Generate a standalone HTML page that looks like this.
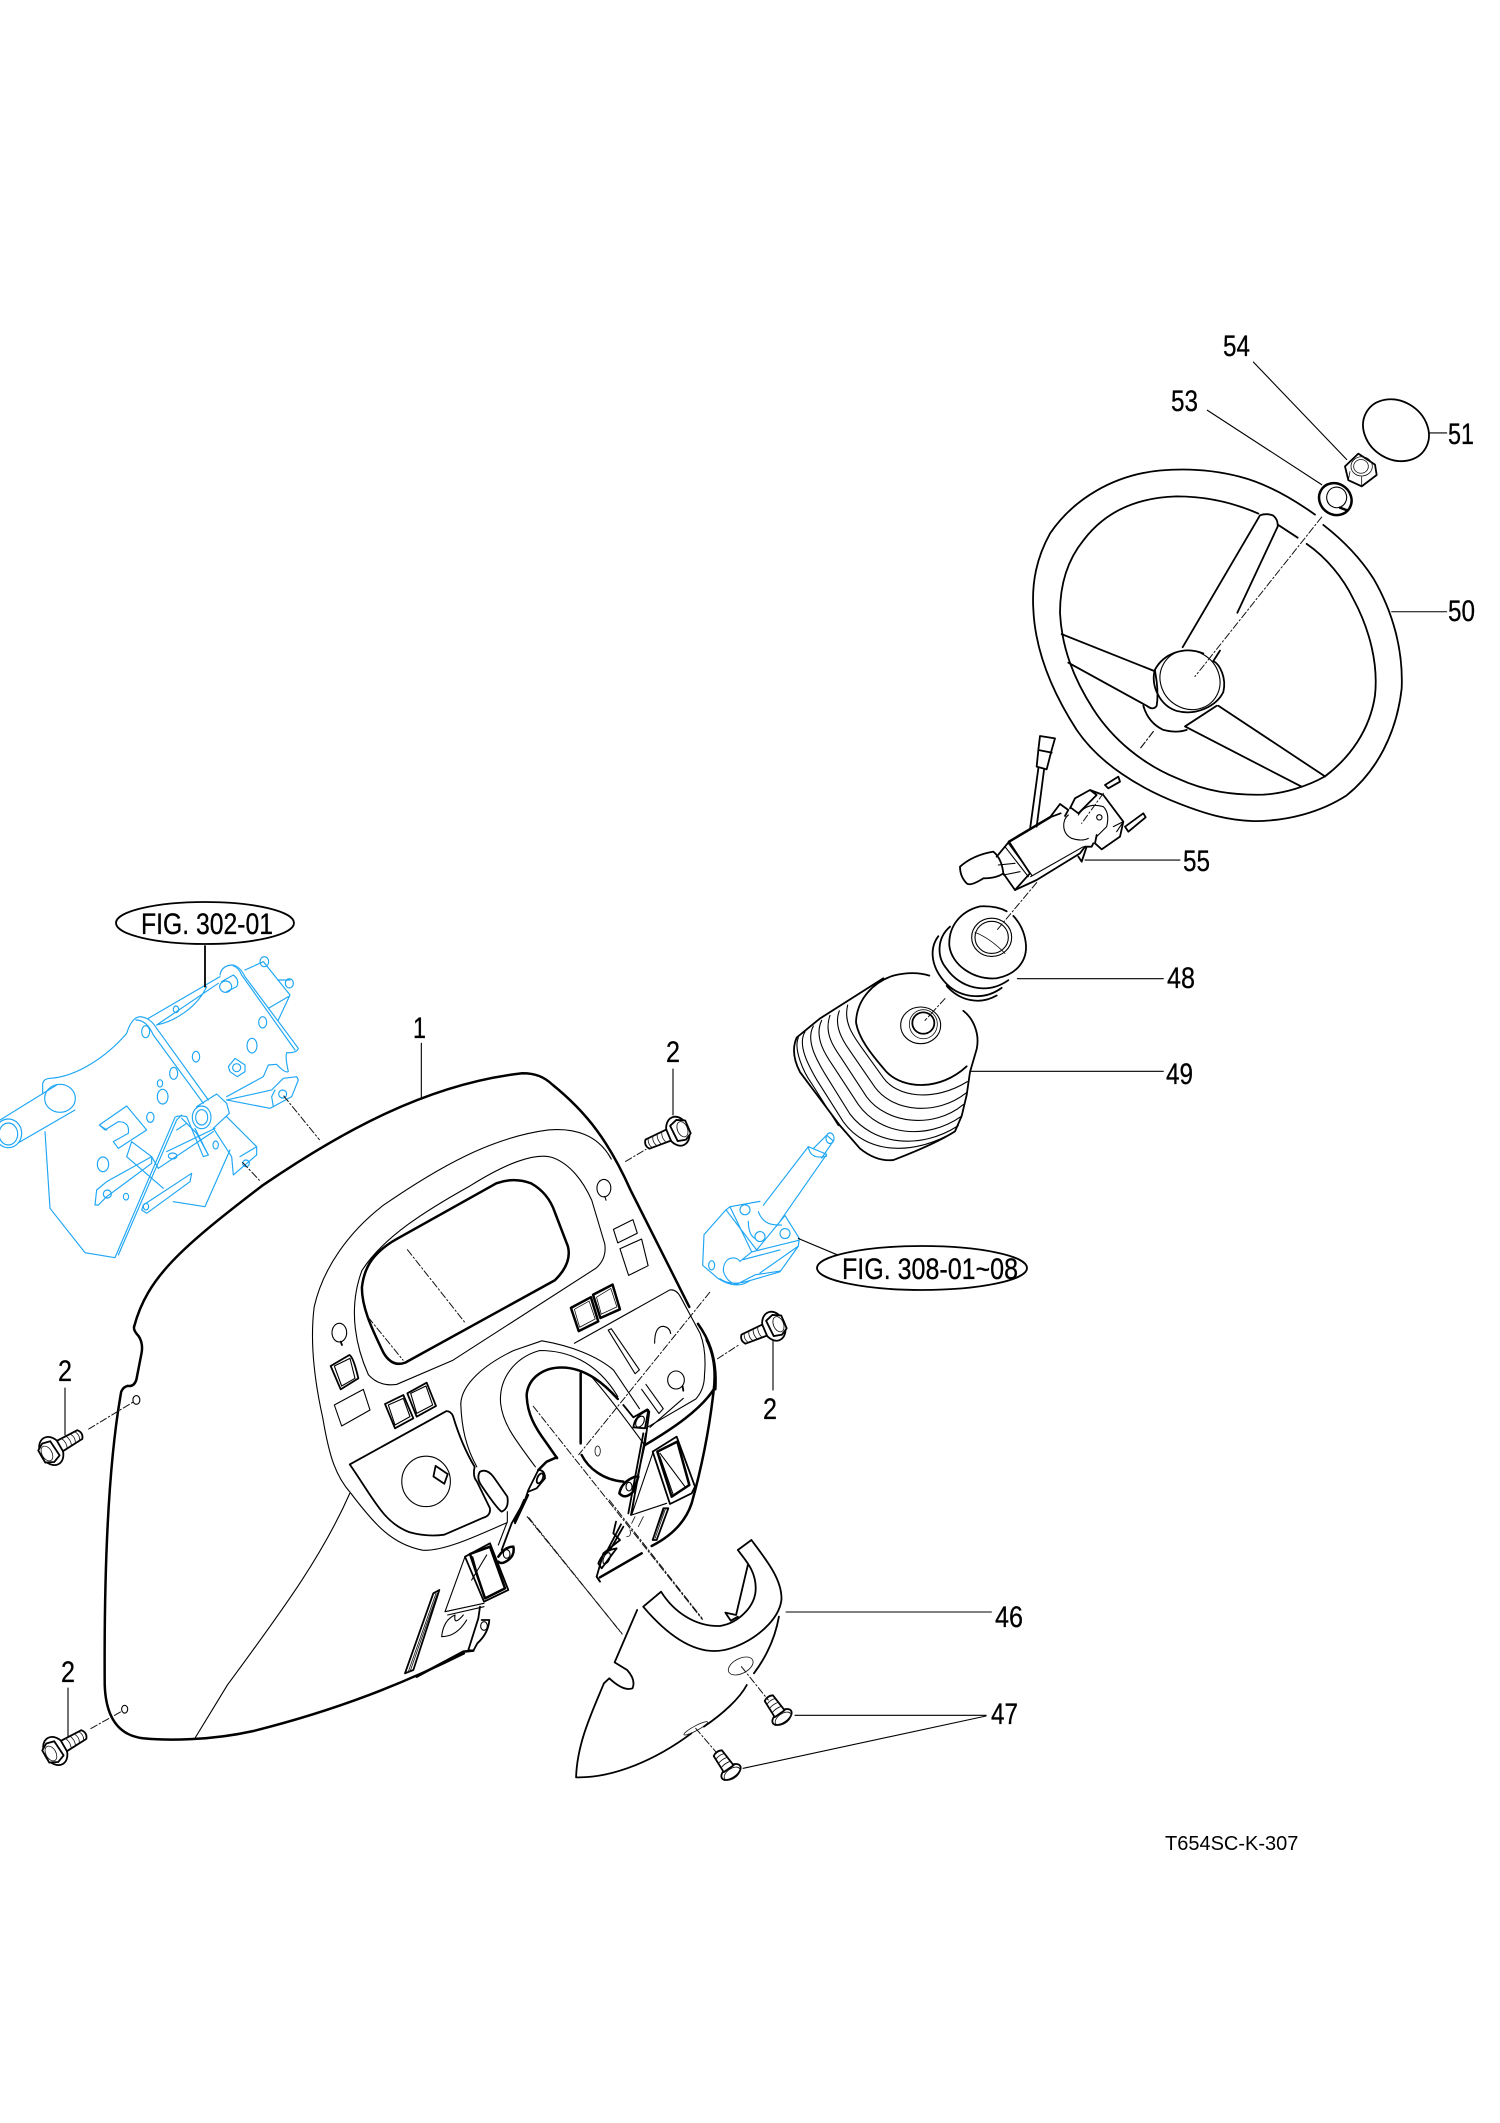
<!DOCTYPE html>
<html><head><meta charset="utf-8"><style>
html,body{margin:0;padding:0;background:#fff}
svg{display:block}
svg *{vector-effect:non-scaling-stroke}
path,ellipse,circle,line,polygon,rect{fill:none;stroke:#000;stroke-linecap:round;stroke-linejoin:round;stroke-width:1.1}
.t{stroke-width:2.5}
.m{stroke-width:1.8}
.f{stroke-width:.8;stroke:#111}
.l{stroke-width:1.1;stroke:#000}
.d{stroke-width:1;stroke-dasharray:7 2.5 1.5 2.5;stroke:#111}
.b path,.b ellipse,.b circle{stroke:#1ea6f5;stroke-width:1.15}
text{font-family:"Liberation Sans",sans-serif;font-size:30px;fill:#000;stroke:#000;stroke-width:.3}
.w{fill:#fff}
</style></head><body>
<svg width="1500" height="2123" viewBox="0 0 1500 2123" xmlns="http://www.w3.org/2000/svg">
<defs>
<g id="bolt">
<ellipse class="w m" cx="-2" cy="0" rx="11" ry="15"/>
<path class="m w" d="M-13 -7L-6 -11L2 -9L3 8L-5 11L-13 7Z"/>
<ellipse class="f" cx="-7" cy="0" rx="5" ry="8"/>
<path class="m w" d="M8 -6L31 -5Q35 0 31 5L8 6Z"/>
<path class="f" d="M13 -6Q16 0 13 6M18 -6Q21 0 18 6M23 -5Q26 0 23 5M28 -5Q31 0 28 5"/>
</g>
<g id="screw">
<ellipse class="m w" cx="0" cy="0" rx="6" ry="11"/>
<ellipse class="f" cx="-2" cy="0" rx="5" ry="9"/>
<path class="m w" d="M4 -6L23 -5Q26 0 23 5L4 6Z"/>
<path class="f" d="M9 -6Q11 0 9 6M14 -6Q16 0 14 6M19 -5Q21 0 19 5"/>
</g>
</defs>

<!-- BLUE bracket -->
<g class="b" transform="translate(0 880) scale(.33333)">
<path d="M128 640V610Q132 596 150 595C230 590 320 530 380 460Q395 412 420 410Q450 412 470 445L625 660"/>
<path d="M408 420Q440 420 460 465L610 670"/>
<path d="M135 755L150 985L255 1118L345 1133L525 712Q535 705 560 710L610 830L625 825L585 745"/>
<path d="M355 1125L530 720L545 705"/>
<path d="M445 415L660 290M470 435L655 310M470 435C520 425 590 385 620 320"/>
<path d="M660 285Q665 255 700 255Q720 260 735 290L895 505Q890 520 860 518Q855 530 865 575Q855 580 830 553L805 555L790 590L680 650"/>
<path d="M700 258Q715 262 725 285L885 510"/>
<path d="M735 270L790 245L870 345L835 420M805 385L865 350M835 300L870 300"/>
<ellipse cx="793" cy="245" rx="13" ry="15"/><ellipse cx="868" cy="310" rx="12" ry="14"/>
<path d="M665 305L700 285Q720 300 710 320L680 335"/><ellipse cx="677" cy="320" rx="18" ry="17"/>
<path d="M685 560L705 535L735 555L735 575L712 590L690 575Z"/><ellipse cx="710" cy="563" rx="12" ry="12"/>
<path d="M680 660L815 630L850 595L890 590L895 600L875 650L810 685L680 660"/><ellipse cx="848" cy="642" rx="12" ry="12"/><path d="M825 630L815 650L820 680"/>
<ellipse cx="605" cy="712" rx="28" ry="34"/><ellipse cx="605" cy="712" rx="18" ry="23"/>
<path d="M590 680L650 642L680 670L688 700L640 745"/>
<path d="M680 710L770 800L770 825L700 885L695 830L640 745M720 830L770 800"/><ellipse cx="738" cy="850" rx="10" ry="10"/>
<path d="M690 810L615 980L520 965"/>
<path d="M298 735L380 678L440 750L355 805L340 785L385 760Q390 725 355 725L315 750ZM298 735L320 750M340 785L355 805"/>
<path d="M395 785L380 830L490 925M395 785L455 830L475 865"/>
<path d="M285 975L290 930L320 905L455 830L455 850L320 950L295 975Z"/><ellipse cx="322" cy="942" rx="12" ry="12"/>
<path d="M430 975L575 880L570 905L440 1000L425 990Z"/><ellipse cx="438" cy="980" rx="8" ry="10"/>
<path d="M475 865L640 755M500 815L645 745"/><ellipse cx="518" cy="828" rx="13" ry="9"/>
<path d="M545 715L590 760L625 825M530 750L560 730"/><ellipse cx="647" cy="795" rx="8" ry="12"/><ellipse cx="378" cy="950" rx="8" ry="10"/>
<path d="M0 720L170 615M35 800L225 690"/>
<ellipse cx="180" cy="655" rx="46" ry="42"/><ellipse class="w" cx="25" cy="760" rx="40" ry="43"/><ellipse cx="25" cy="762" rx="28" ry="33"/>
<ellipse cx="437" cy="455" rx="12" ry="18"/><ellipse cx="521" cy="580" rx="12" ry="18"/><ellipse cx="588" cy="530" rx="11" ry="16"/><ellipse cx="756" cy="497" rx="15" ry="22"/><ellipse cx="788" cy="427" rx="12" ry="17"/><ellipse cx="480" cy="610" rx="8" ry="11"/><ellipse cx="488" cy="650" rx="16" ry="22"/><ellipse cx="451" cy="712" rx="11" ry="15"/><ellipse cx="309" cy="853" rx="17" ry="22"/><ellipse cx="528" cy="388" rx="8" ry="10"/>
</g>

<!-- BLUE column -->
<g class="b" transform="translate(680 720) scale(.33333 .38265)">
<path d="M72 1345L68 1425L115 1460Q170 1490 210 1465L300 1442L355 1375L358 1355L315 1295L230 1385L138 1280L72 1345"/>
<path d="M150 1272L240 1258M138 1280L150 1272L215 1390"/>
<path d="M250 1268L385 1115L440 1135L300 1310M385 1115Q390 1150 440 1140"/>
<path d="M400 1120L440 1085L460 1100L425 1145"/><ellipse cx="450" cy="1093" rx="12" ry="14"/>
<ellipse cx="195" cy="1280" rx="15" ry="13"/><ellipse cx="240" cy="1350" rx="15" ry="13"/><ellipse cx="315" cy="1342" rx="15" ry="13"/>
<path d="M205 1310Q205 1345 225 1355M235 1285C250 1320 280 1320 305 1320"/>
<ellipse cx="95" cy="1425" rx="9" ry="12"/>
<path d="M130 1440C130 1400 170 1400 180 1415L215 1390M120 1460C150 1480 190 1470 210 1465M130 1440Q140 1470 170 1475L225 1450L300 1440M215 1390L355 1360M190 1410L300 1385M240 1445L355 1375"/>
</g>

<!-- Black dash panel -->
<g transform="translate(80 1050) scale(.43368 .48469)">
<path class="t" d="M125 570C155 470 230 410 420 280C600 170 800 70 1020 48C1050 48 1070 55 1090 72C1170 130 1220 190 1270 290L1405 530"/>
<path class="t" d="M1425 565C1445 590 1470 630 1465 700"/>
<path class="t" d="M125 570Q122 578 135 590Q146 605 142 625L130 680Q125 695 110 693Q100 695 95 705C70 830 55 1030 57 1310C60 1390 100 1415 145 1420C200 1425 300 1425 400 1405C600 1360 750 1305 885 1245"/>
<path class="l" d="M1225 225C1195 175 1140 160 1080 165C950 180 830 240 700 320C620 375 560 450 540 530C530 600 540 680 560 760C575 840 590 880 625 915C680 980 720 1020 790 1032C840 1035 920 1000 985 975"/>
<path class="l" d="M650 455C700 385 800 330 900 280C980 235 1050 210 1090 222C1130 235 1160 270 1180 310L1210 400Q1215 430 1190 450L860 640L730 690Q690 695 665 670C640 620 615 540 650 455"/>
<path class="t" d="M680 425Q700 405 730 390L960 275Q1000 262 1040 275Q1080 295 1095 335L1125 405Q1135 440 1095 475L750 645Q720 655 700 625C670 570 650 530 650 490Q655 450 680 425Z"/>
<path class="l" d="M1140 605L1360 495Q1375 493 1385 510L1430 585Q1445 620 1440 670Q1440 700 1420 720L1305 780"/>
<path class="l" d="M878 730C880 690 930 650 1000 620L1065 600C1130 610 1190 630 1230 660L1290 740"/>
<path class="l" d="M1240 715C1190 640 1120 620 1060 620C1000 635 965 680 970 730C975 770 1000 800 1050 860"/>
<path class="l" d="M878 730C880 780 890 820 915 860"/>
<path class="t" d="M1100 842L1075 810C1050 780 1030 750 1030 710C1035 675 1070 655 1110 655C1170 655 1215 695 1240 720"/>
<path class="m" d="M622 855L845 745Q855 745 860 755C875 800 890 830 910 860Q905 880 915 890L945 945Q948 960 930 965L840 1000Q800 1005 760 995C700 975 680 930 622 855Z"/>
<ellipse class="l" cx="798" cy="890" rx="56" ry="52"/>
<path class="m w" d="M820 858L848 875L840 895L815 880Z"/>
<path class="t" d="M1132 532L1178 510L1195 560L1150 580Z"/><path class="f" d="M1140 535L1174 518L1188 555L1152 572Z"/>
<path class="t" d="M1183 505L1228 484L1245 535L1200 553Z"/><path class="f" d="M1191 510L1224 492L1238 530L1202 545Z"/>
<path class="l" d="M1230 370L1275 350L1285 378L1240 398Z"/>
<path class="l" d="M1245 410L1295 390L1310 445L1265 465Z"/>
<ellipse class="l" cx="1208" cy="285" rx="16" ry="18"/><path class="l" d="M1210 302L1213 310"/>
<path class="l" d="M1325 605Q1325 570 1345 570Q1360 572 1362 585"/>
<path class="l" d="M1218 578L1225 575L1290 660L1280 668ZM1305 690L1345 740L1335 750L1295 700"/>
<path class="l" d="M622 915C560 1040 480 1140 340 1310L265 1420"/>
<path class="d" d="M755 412L890 565M665 552L745 640M1452 500L1150 835M1045 735L1435 1175M1035 965L1250 1205"/>
<path class="d" d="M470 95L552 185M375 232L415 270M1258 230L1305 205M1470 637L1520 608M20 782L125 725M25 1400L95 1365"/>
<ellipse class="l" cx="130" cy="722" rx="8" ry="9"/><ellipse class="l" cx="103" cy="1360" rx="7" ry="8"/>
</g>

<!-- left rockers -->
<g transform="translate(300 1310) scale(.33333)">
<path class="m" d="M92 168L148 135Q160 140 175 205L122 238Z"/><path class="l" d="M103 168L150 145L165 205L125 228Z"/>
<path class="m" d="M255 282L310 255L340 325L285 355Z"/><path class="l" d="M265 285L310 265L330 320L285 345Z"/>
<path class="m" d="M322 250L380 218L408 288L350 320Z"/><path class="l" d="M332 250L378 228L398 285L350 310Z"/>
<path class="l" d="M103 285L190 238L210 300L125 348Z"/>
<ellipse class="l" cx="118" cy="68" rx="22" ry="28"/><path class="m" d="M122 95L126 105"/>
</g>

<!-- left vent and bracket -->
<g transform="translate(380 1380) scale(.33333)">
<path class="m" d="M300 275Q320 265 340 290L382 350Q388 385 365 395Q350 385 300 310Q290 290 300 275Z"/>
<path class="l" d="M382 395V425L355 495"/>
<path class="t" d="M530 232L500 245L475 270"/>
<path class="m" d="M475 270L445 330L435 360L395 430L365 510M445 345L405 430"/>
<path class="t" d="M433 360L405 425"/>
<path class="m" d="M475 270Q495 270 495 295L470 325L445 335"/>
<ellipse class="m" cx="480" cy="295" rx="8" ry="16" transform="rotate(25 480 295)"/>
<path class="t" d="M355 530Q375 500 400 500Q405 525 385 540Q365 555 355 545"/>
<ellipse class="l" cx="380" cy="522" rx="10" ry="13"/>
<path class="m w" d="M255 530L330 490L385 630L312 665Z"/>
<path class="t" d="M270 522L330 500L375 625L315 655Z"/>
<path class="l" d="M278 530L310 645M275 600L320 525"/>
<path class="l" d="M195 695L255 530M195 695L312 670M203 705L312 680"/>
<path class="m" d="M300 680L295 715L265 810L280 812L292 790Q325 760 328 720L305 720"/>
<ellipse class="l" cx="312" cy="738" rx="10" ry="13"/>
<path class="t" d="M280 812L250 815L110 890"/>
<path class="l" d="M185 770Q190 720 225 705Q220 740 250 705M185 770Q230 770 260 720"/>
<path class="m" d="M75 880L160 640L178 630L100 870Z"/><path class="f" d="M85 875L168 640M90 875L172 640"/>
</g>

<!-- right vent and bracket -->
<g transform="translate(560 1340) scale(.33333)">
<path class="t" d="M440 0C460 40 470 90 460 160C445 290 420 400 395 490C375 550 330 590 275 618"/>
<path class="t" d="M460 150C420 210 340 265 255 315"/>
<path class="l" d="M270 262L370 175"/>
<ellipse class="l" cx="348" cy="120" rx="25" ry="27"/><path class="m" d="M368 140L370 152"/>
<ellipse class="f" cx="113" cy="333" rx="8" ry="15"/>
<path class="t" d="M62 100V310M65 345C85 385 130 420 190 425"/>
<path class="l" d="M90 105C130 150 170 200 250 310"/>
<path class="m" d="M190 195L220 232L262 208L268 215L255 310L235 400L215 520M250 280L205 520M258 280L213 525"/>
<path class="m" d="M220 262Q225 225 265 210L255 265Z"/>
<ellipse class="l" cx="240" cy="245" rx="11" ry="18" transform="rotate(30 240 245)"/>
<path class="t" d="M178 460Q185 425 225 410L235 410L220 455Q195 480 178 460"/>
<ellipse class="l" cx="207" cy="440" rx="9" ry="13"/>
<path class="l" d="M215 525L320 490M215 525L278 340"/>
<path class="m w" d="M278 335L350 290L405 440L395 460L330 492Z"/>
<path class="t" d="M292 335L352 305L388 435L335 470Z"/>
<path class="l" d="M300 340L375 440M300 350L340 465"/>
<path class="m" d="M278 600L310 505L325 505L290 600Z"/><path class="f" d="M285 595L317 505M282 590L312 510"/>
<path class="m" d="M168 545L160 580L180 600L130 640L110 710L120 725"/>
<path class="t" d="M120 712L245 640"/>
<path class="m" d="M190 560L150 630M183 553L140 635M110 710L118 722"/>
<path class="m" d="M115 670Q130 630 170 625L125 685Z"/>
<ellipse class="l" cx="140" cy="655" rx="9" ry="18" transform="rotate(25 140 655)"/>
<path class="f" d="M225 530L215 550M250 530L235 560M200 590Q215 590 210 570"/>
</g>

<!-- Bolts -->
<use href="#bolt" transform="translate(676 1132) rotate(157)"/>
<use href="#bolt" transform="translate(772 1327) rotate(157)"/>
<use href="#bolt" transform="translate(53 1450) rotate(-30)"/>
<use href="#bolt" transform="translate(57 1750) rotate(-30)"/>
<use href="#screw" transform="translate(782 1717) rotate(-125)"/>
<use href="#screw" transform="translate(731 1772) rotate(-125)"/>

<!-- Wheel -->
<g transform="translate(1000 320) scale(.33333 .34444)">
<path class="m" d="M945 565C880 520 800 475 720 455C640 435 560 430 480 437C340 450 220 520 150 620C110 690 95 760 100 840C105 950 150 1070 230 1190C300 1290 420 1360 540 1405C620 1435 680 1452 760 1455C860 1455 960 1430 1040 1380C1130 1310 1190 1200 1205 1070C1210 960 1180 850 1120 750C1080 690 1030 640 970 595"/>
<path class="m" d="M775 562C700 530 620 512 530 512C420 515 320 550 250 640C200 700 180 770 180 850C185 950 220 1040 280 1130C340 1220 430 1290 530 1330C620 1370 700 1380 790 1378C850 1375 920 1355 975 1325C1050 1270 1110 1190 1125 1090C1135 1000 1110 900 1060 810C1030 750 980 690 920 650M893 632L835 595"/>
<path class="m" d="M548 950L780 567Q800 560 820 568Q835 580 833 600L712 850M660 960L640 990"/>
<path class="m" d="M610 968C550 945 490 970 465 1015C450 1060 480 1120 530 1135C590 1150 650 1120 670 1080C680 1040 660 1000 640 990"/>
<ellipse class="l" cx="570" cy="1045" rx="92" ry="84" transform="rotate(30 570 1045)"/>
<path class="m" d="M185 912L460 1018M205 995L440 1120Q460 1135 470 1120Q475 1090 470 1050L465 1018"/>
<path class="m" d="M430 1120Q445 1170 490 1190Q530 1200 560 1190M555 1180L650 1120M555 1180L905 1355M655 1120L975 1325"/>
<path class="d" d="M965 572L585 1035M460 1195L420 1245"/>
<path class="m" d="M1035 425L1075 388L1125 420L1130 450L1085 483L1045 465Z"/>
<ellipse class="f" cx="1085" cy="425" rx="32" ry="28"/><ellipse class="f" cx="1083" cy="425" rx="22" ry="20"/><path class="f" d="M1045 465L1050 440M1085 483L1085 455"/>
<ellipse class="t" cx="1006" cy="520" rx="50" ry="45" transform="rotate(30 1006 520)"/>
<ellipse class="l" cx="1010" cy="515" rx="30" ry="30" transform="rotate(30 1010 515)"/><path class="t" d="M1020 545L1040 552"/>
<ellipse class="m" cx="1188" cy="320" rx="103" ry="85" transform="rotate(30 1188 320)"/>
<path class="l" d="M1290 328H1340M1175 847H1340M760 122L1040 405M622 262L965 478"/>
</g>

<!-- Combi switch -->
<g transform="translate(940 730) scale(.33333)">
<path class="m" d="M270 298L295 115M290 290L312 120"/>
<path class="m" d="M295 60L300 18L345 25L335 60L320 118L290 110ZM295 60L335 68"/>
<path class="t" d="M207 335L330 262"/>
<path class="m" d="M330 262L360 222L385 240L375 258M330 262L362 250"/>
<path class="m" d="M170 380L207 335L270 430L225 480L190 430"/>
<path class="l" d="M195 350L265 440M205 340L275 435"/>
<path class="m" d="M225 480L290 450L420 370L435 350L455 350L460 340M440 350L425 395L415 380"/>
<path class="l" d="M272 440L430 350"/>
<path class="m" d="M60 410Q100 375 160 365Q185 385 190 430Q170 445 130 445Q90 470 80 460Q60 440 60 410Z"/>
<path class="l" d="M175 405L225 400M190 435L240 425"/>
<path class="m" d="M390 235L405 205L450 180L490 195L550 275L540 320L485 358L465 340L470 315M450 180L470 195L415 250L395 235"/>
<path class="l" d="M385 255C365 270 365 310 395 325Q425 335 445 325M415 255Q440 215 490 230Q510 250 500 290L470 320M520 290L550 275L530 305"/>
<ellipse class="l" cx="478" cy="262" rx="8" ry="8"/>
<path class="m" d="M495 165L535 140L540 155L505 175ZM555 290L610 250L617 262L565 305Z"/>
<path class="d" d="M490 190L425 280"/>
</g>

<!-- 48, 49 -->
<g transform="translate(680 720) scale(.33333 .38265)">
<path class="d" d="M1070 425L950 550M795 728L735 785M1420 30L1380 75"/>
<path class="m" d="M980 500Q950 485 900 487C840 500 805 540 808 590C815 640 880 680 950 675C1010 665 1040 630 1038 590Q1035 545 1000 512"/>
<ellipse class="l" cx="935" cy="568" rx="60" ry="50"/><ellipse class="l" cx="935" cy="568" rx="50" ry="42"/>
<path class="f" d="M885 555Q930 570 975 610"/>
<path class="m" d="M810 540C770 570 770 620 800 650C840 700 920 720 985 680M775 565C745 600 755 650 800 690C840 725 910 735 965 700M800 695C840 735 900 745 950 720"/>
<path class="m" d="M748 668Q700 655 640 668C580 685 530 730 528 790C535 830 570 870 620 920C670 965 780 970 860 905"/>
<path class="m" d="M850 760C880 780 900 820 890 860L870 920L860 980L845 1035L825 1075C780 1100 700 1130 640 1150Q590 1155 540 1120L480 1060L360 920Q330 870 350 830L420 780L610 675"/>
<path class="l" d="M503 745C490 790 520 825 540 850L610 935C650 985 760 1000 862 945M478 760C460 800 490 840 510 865L585 960C640 1025 770 1035 858 975M450 772C430 820 465 860 485 885L560 985C620 1055 760 1070 850 1005M425 785C400 830 440 880 460 905L535 1005C600 1085 740 1100 845 1035M400 800C375 840 415 895 435 925L510 1030C580 1110 720 1125 835 1060M375 815C350 850 390 910 410 940L490 1050C560 1135 700 1140 825 1075M355 830C340 860 370 920 395 950L475 1060"/>
<ellipse class="l" cx="722" cy="798" rx="60" ry="48"/><ellipse class="m" cx="730" cy="792" rx="33" ry="28"/><ellipse class="f" cx="730" cy="795" rx="42" ry="38"/>
<path class="l" d="M1215 366H1500M1012 676H1450M870 918H1450M355 1355L470 1397"/>
</g>

<!-- Cover 46 -->
<g transform="translate(520 1500) scale(.35714 .33333)">
<path class="m" d="M610 150L648 120C690 180 735 240 732 300C725 360 660 420 590 445C520 470 440 440 345 320L395 275C430 335 490 380 560 378C610 370 660 320 660 265C660 210 630 180 610 150Z"/>
<path class="m" d="M328 330L265 487L300 510Q325 540 315 565Q290 575 250 535L235 550C200 640 160 730 157 832C260 835 380 780 480 700M515 680C570 640 615 595 635 555M655 520C690 470 715 410 725 350"/>
<path class="m" d="M638 195L605 345L575 338L590 362L610 350"/>
<ellipse class="f" cx="618" cy="498" rx="38" ry="22" transform="rotate(-30 618 498)"/>
<ellipse class="f" cx="492" cy="685" rx="38" ry="7" transform="rotate(-30 492 685)"/>
<path class="d" d="M620 500L695 600M492 685L548 755M20 50L285 400M250 0L510 355"/>
<path class="l" d="M745 336H1320M770 646H1305M625 805L1305 648"/>
</g>

<!-- Leaders / callouts -->
<g transform="translate(0 880) scale(.33333)">
<path class="l" d="M1264 490V655"/>
<path class="m" d="M615 198V320"/>
</g>
<ellipse class="m w" cx="205" cy="923" rx="89" ry="21"/>
<ellipse class="m w" cx="922" cy="1268" rx="105" ry="22"/>
<path class="l" d="M673 1069V1115M773 1340V1390M65 1388V1435M68 1688V1737"/>

<text x="141" y="934" textLength="132" lengthAdjust="spacingAndGlyphs">FIG. 302-01</text>
<text x="842" y="1279" textLength="176" lengthAdjust="spacingAndGlyphs">FIG. 308-01~08</text>
<text x="1223" y="356" textLength="27" lengthAdjust="spacingAndGlyphs">54</text>
<text x="1171" y="411" textLength="27" lengthAdjust="spacingAndGlyphs">53</text>
<text x="1448" y="444" textLength="26" lengthAdjust="spacingAndGlyphs">51</text>
<text x="1448" y="621" textLength="27" lengthAdjust="spacingAndGlyphs">50</text>
<text x="1183" y="871" textLength="27" lengthAdjust="spacingAndGlyphs">55</text>
<text x="1167" y="988" textLength="28" lengthAdjust="spacingAndGlyphs">48</text>
<text x="1166" y="1084" textLength="27" lengthAdjust="spacingAndGlyphs">49</text>
<text x="995" y="1627" textLength="28" lengthAdjust="spacingAndGlyphs">46</text>
<text x="991" y="1724" textLength="27" lengthAdjust="spacingAndGlyphs">47</text>
<text x="413" y="1038" textLength="13" lengthAdjust="spacingAndGlyphs">1</text>
<text x="666" y="1062" textLength="14" lengthAdjust="spacingAndGlyphs">2</text>
<text x="763" y="1419" textLength="14" lengthAdjust="spacingAndGlyphs">2</text>
<text x="58" y="1381" textLength="14" lengthAdjust="spacingAndGlyphs">2</text>
<text x="61" y="1682" textLength="14" lengthAdjust="spacingAndGlyphs">2</text>
<text x="1165" y="1850" style="font-size:20px;stroke-width:0">T654SC-K-307</text>
</svg>
</body></html>
